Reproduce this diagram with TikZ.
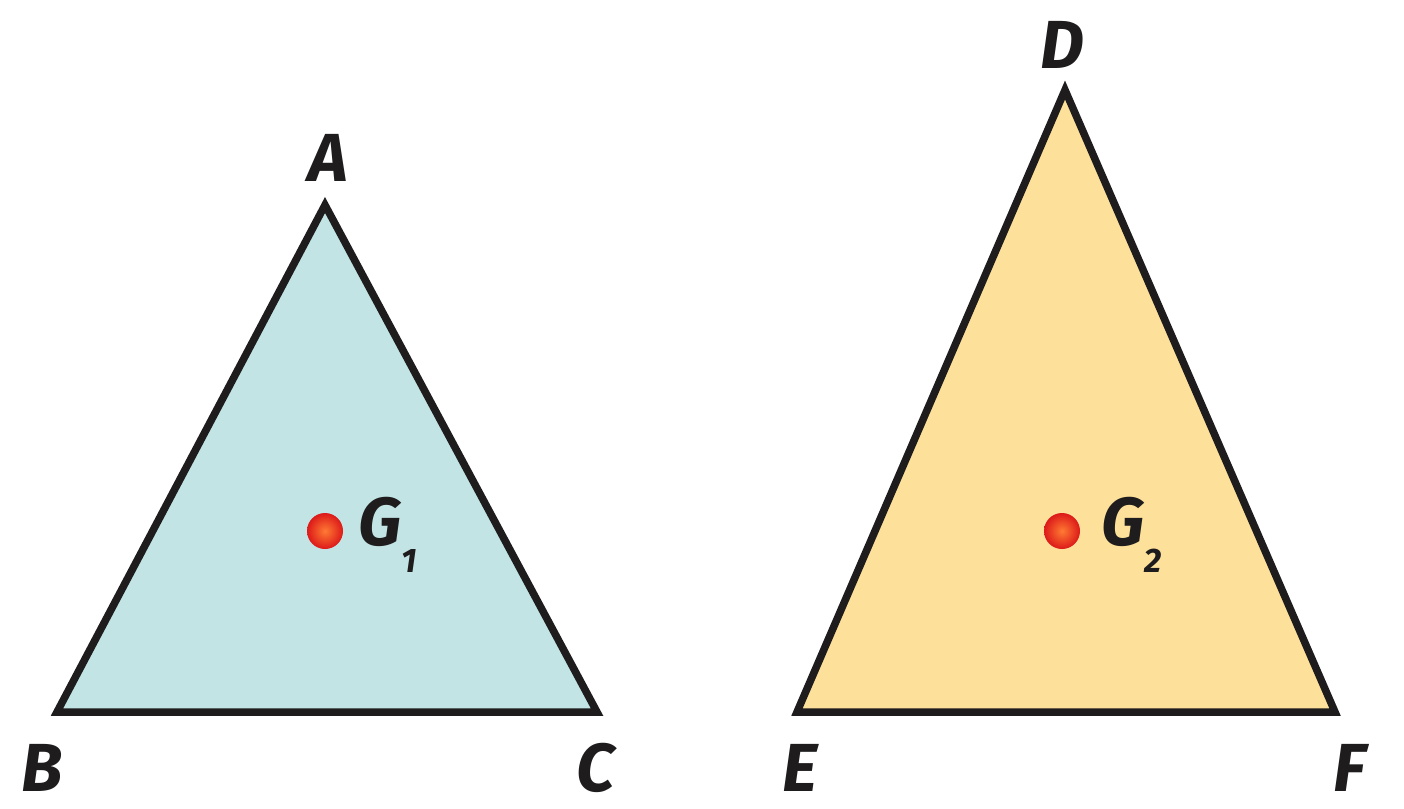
\documentclass[tikz,border=0pt]{standalone}
\usepackage{fontspec}
\setmainfont{Fira Sans}
\definecolor{tealfill}{RGB}{194,228,228}
\definecolor{yelfill}{RGB}{253,224,154}
\definecolor{ink}{RGB}{30,28,28}
\begin{document}
\begin{tikzpicture}[x=1pt,y=-1pt,
  tri/.style={draw=ink,line width=7.5pt,line join=miter},
  lbl/.style={font=\fontsize{68}{70}\selectfont\bfseries\itshape, text=ink, inner sep=0pt},
  dot/.style={circle,minimum size=36pt,inner sep=0pt,draw=none,inner color=orange!70!red!80,outer color=red!85!black!90}
]
\useasboundingbox (0,0) rectangle (1404,808);
\fill[white] (0,0) rectangle (1404,808);
\coordinate (A) at (325,205);
\coordinate (B) at (57,712);
\coordinate (C) at (597,712);
\coordinate (D) at (1065,90);
\coordinate (E) at (797,712);
\coordinate (F) at (1335,712);
\filldraw[tri,fill=tealfill] (A) -- (B) -- (C) -- cycle;
\filldraw[tri,fill=yelfill] (D) -- (E) -- (F) -- cycle;
\node[dot] (G1) at (325,531) {};
\node[dot] (G2) at (1062,531) {};
\node[lbl] (lA) at (328,158) {A};
\node[lbl] (lB) at (42,768) {B};
\node[lbl] (lC) at (596,768) {C};
\node[lbl] (lD) at (1062,45) {D};
\node[lbl] (lE) at (800,768) {E};
\node[lbl] (lF) at (1350,768) {F};
\node[lbl,anchor=west] (lG1) at (358,535) {G\raisebox{-0.4em}{\fontsize{34}{36}\selectfont 1}};
\node[lbl,anchor=west] (lG2) at (1101,535) {G\raisebox{-0.4em}{\fontsize{34}{36}\selectfont 2}};
\end{tikzpicture}
\end{document}
